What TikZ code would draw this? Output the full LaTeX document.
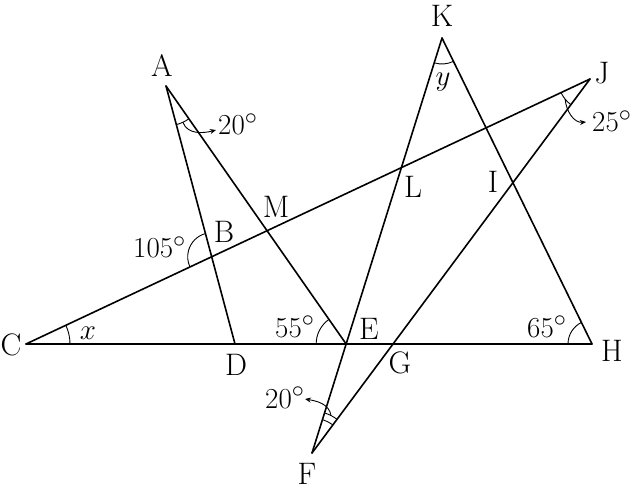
\documentclass[tikz,border=0pt]{standalone}
\usetikzlibrary{angles,arrows.meta,calc}
\begin{document}
\begin{tikzpicture}[x=1pt,y=1pt,
  lbl/.style={font=\fontsize{24.88}{30}\selectfont, inner sep=0pt, scale=1.1656},
  plbl/.style={font=\fontsize{24.88}{30}\selectfont, inner sep=0pt, scale=1.25},
  seg/.style={line width=1.6pt, line cap=round, line join=round},
  ang/.style={draw, line width=0.9pt, angle radius=#1},
  arr/.style={line width=0.9pt, -{Stealth[length=6pt,width=5pt]}}]
\useasboundingbox (0,-494) rectangle (637,0);
% vertices
\coordinate (A) at (166,-86);
\coordinate (C) at (26,-344);
\coordinate (D) at (235,-344);
\coordinate (H) at (592,-344);
\coordinate (K) at (442,-38);
\coordinate (J) at (590,-79);
\coordinate (F) at (312,-453);
\coordinate (E) at (intersection of K--F and C--H);
\coordinate (G) at (intersection of J--F and C--H);
\coordinate (B) at (intersection of A--D and C--J);
\coordinate (M) at (intersection of A--E and C--J);
\coordinate (L) at (intersection of K--F and C--J);
\coordinate (I) at (intersection of J--F and K--H);
% lines
\draw[seg] (C) -- (H);
\draw[seg] (C) -- (J);
\draw[seg] (A) -- (D);
\draw[seg] (A) -- (E);
\draw[seg] (K) -- (F);
\draw[seg] (J) -- (F);
\draw[seg] (K) -- (H);
% angle marks
\pic[ang=40pt] {angle = D--A--E};
\pic[ang=24pt] {angle = A--B--C};
\pic[ang=44pt] {angle = H--C--J};
\pic[ang=30pt] {angle = A--E--C};
\pic[ang=24pt] {angle = K--H--C};
\pic[ang=26pt] {angle = F--K--H};
\pic[ang=32pt] {angle = C--J--F};
\pic[ang=42pt] {angle = J--F--K};
\pic[ang=35pt] {angle = J--F--K};
% point labels
\node[plbl] (lA) at (162,-66) {A};
\node[plbl] (lK) at (442,-16) {K};
\node[plbl] (lJ) at (602,-73) {J};
\node[plbl] (lC) at (11,-345) {C};
\node[plbl] (lD) at (236,-365) {D};
\node[plbl] (lE) at (369,-329) {E};
\node[plbl] (lG) at (400,-363) {G};
\node[plbl] (lH) at (612,-351) {H};
\node[plbl] (lF) at (307,-474) {F};
\node[plbl] (lB) at (224,-232) {B};
\node[plbl] (lM) at (276,-207) {M};
\node[plbl] (lL) at (413,-187) {L};
\node[plbl] (lI) at (493,-182) {I};
% angle labels
\node[lbl] (vx) at (88,-333) {$x$};
\node[lbl] (vy) at (443,-82) {$y$};
\node[lbl, anchor=base west] (n20a) at (218,-135) {$20^\circ$};
\node[lbl, anchor=base west] (n25) at (592,-132) {$25^\circ$};
\node[lbl, anchor=base west] (n105) at (133,-258) {$105^\circ$};
\node[lbl, anchor=base west] (n55) at (275,-337) {$55^\circ$};
\node[lbl, anchor=base west] (n65) at (527,-337) {$65^\circ$};
\node[lbl, anchor=base west] (n20f) at (265,-408) {$20^\circ$};
% arrows
\coordinate (sA) at ($(A)+(295:40)$);
\coordinate (tA) at (216,-130);
\draw[arr] (sA) to[out=-70,in=195] (tA);
\coordinate (sJ) at ($(J)+(219:32)$);
\coordinate (tJ) at (586,-122);
\draw[arr] (sJ) to[out=-85,in=185] (tJ);
\coordinate (sF) at ($(F)+(63:42)$);
\coordinate (tF) at (305,-399);
\draw[arr] (sF) to[out=100,in=-10] (tF);
\end{tikzpicture}
\end{document}
